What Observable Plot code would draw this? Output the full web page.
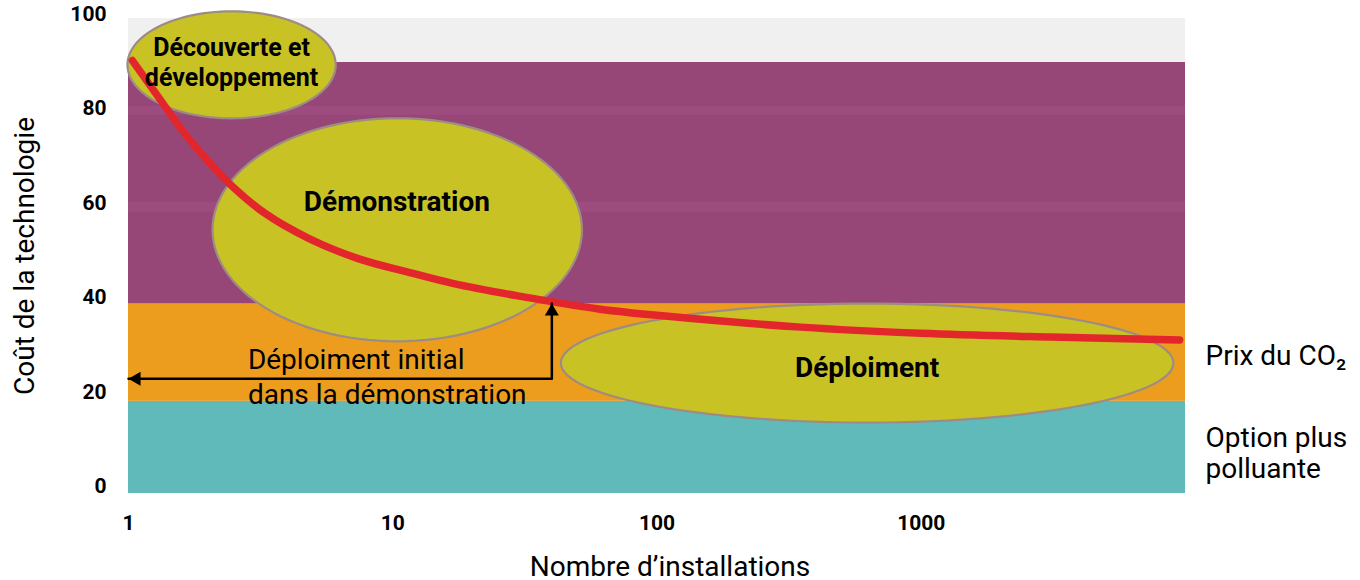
<!DOCTYPE html>
<html>
<head>
<meta charset="utf-8">
<script src="https://cdn.jsdelivr.net/npm/d3@7"></script>
<script src="https://cdn.jsdelivr.net/npm/@observablehq/plot@0.6"></script>
<style>
  html, body { margin: 0; padding: 0; background: #ffffff; }
  #chart { width: 1360px; height: 580px; }
  svg { font-family: Roboto, "Noto Sans", sans-serif; }
</style>
</head>
<body>
<div id="chart"></div>
<script>
// ---- Data ----
const xTicks = [1, 10, 100, 1000];
const yTicks = [0, 20, 40, 60, 80, 100];
const xDomain = [1, 10000];
const yDomain = [-1.5, 99];

// Background bands (cost ranges)
const bandNames = ["Option plus polluante", "Prix du CO2", "Coût élevé", "Haut"];
const bandLow = [-1.5, 18, 38.6, 89.7];
const bandHigh = [18, 38.6, 89.7, 99];
const bandColors = ["#60bab9", "#ec9d1d", "#974777", "#f0f0f0"];

// faint stripes inside the purple band
const stripeLow = [58.0, 78.5];
const stripeHigh = [60.1, 80.4];

// Learning curve (cost vs number of installations)
const curveX = [1.035, 1.3, 1.64, 2.01, 2.48, 3.3, 4.8, 7.4, 11.5, 17, 30.5, 40, 61, 100, 350, 1000, 3100, 9500];
const curveY = [90.1, 82.3, 74.5, 68.7, 63.4, 57.7, 52.5, 48.2, 45.3, 42.9, 40.2, 39.1, 37.5, 36.2, 33.7, 32.4, 31.6, 31.0];

// Phase ellipses: centre (installations, cost), half-width in decades, half-height in cost units
const phaseNames = ["Découverte et\ndéveloppement", "Démonstration", "Déploiment"];
const phaseCx = [2.455, 10.4, 624];
const phaseCy = [89.2, 54.3, 26.1];
const phaseRx = [0.394, 0.699, 1.159];
const phaseRy = [11.32, 23.6, 12.59];
const phaseLabelX = [2.455, 10.37, 624];
const phaseLabelY = [90.0, 60.1, 24.95];
const phaseFontSize = [25, 28, 28];

// Arrow: initial deployment in the demonstration
const arrowX = [1, 40, 40];
const arrowY = [22.8, 22.8, 38.7];
const arrowText = "Déploiment initial\ndans la démonstration";
const arrowTextX = 2.83;
const arrowTextY = 23.6;

// Right-hand labels
const sideLabels = ["Prix du CO₂", "Option plus\npolluante"];
const sideLabelY = [27.7, 7.1];

const xTitle = "Nombre d’installations";
const yTitle = "Coût de la technologie";

// ---- Derived tables ----
const bands = bandLow.map((lo, i) => ({name: bandNames[i], y1: lo, y2: bandHigh[i], fill: bandColors[i]}));
const stripes = stripeLow.map((lo, i) => ({y1: lo, y2: stripeHigh[i]}));
const curve = curveX.map((x, i) => ({x, y: curveY[i]}));
const ellipsePts = [];
phaseNames.forEach((name, i) => {
  const n = 120;
  for (let k = 0; k < n; k++) {
    const t = (2 * Math.PI * k) / n;
    ellipsePts.push({
      name,
      x: Math.pow(10, Math.log10(phaseCx[i]) + phaseRx[i] * Math.cos(t)),
      y: phaseCy[i] + phaseRy[i] * Math.sin(t)
    });
  }
});
const phaseLabels = phaseNames.map((name, i) => ({name, x: phaseLabelX[i], y: phaseLabelY[i], size: phaseFontSize[i]}));
const arrowPath = arrowX.map((x, i) => ({x, y: arrowY[i]}));
const upHead = [{x: arrowX[2], y: arrowY[2]}];
const leftHead = [{x: arrowX[0], y: arrowY[0]}];
const side = sideLabels.map((t, i) => ({t, y: sideLabelY[i]}));

const chart = Plot.plot({
  width: 1360,
  height: 580,
  marginLeft: 128,
  marginRight: 175,
  marginTop: 18,
  marginBottom: 87,
  style: {fontFamily: "Roboto, 'Noto Sans', sans-serif", background: "#ffffff", overflow: "visible"},
  x: {type: "log", domain: xDomain},
  y: {domain: yDomain},
  marks: [
    Plot.rect(bands, {x1: xDomain[0], x2: xDomain[1], y1: "y1", y2: "y2", fill: "fill"}),
    Plot.rect(stripes, {x1: xDomain[0], x2: xDomain[1], y1: "y1", y2: "y2", fill: "#a04e82", fillOpacity: 0.8}),
    Plot.line(ellipsePts, {x: "x", y: "y", z: "name", curve: "linear-closed", fill: "#c9c225", stroke: "#9c8c84", strokeWidth: 2.2}),
    Plot.line(curve, {x: "x", y: "y", curve: "catmull-rom", stroke: "#e3262c", strokeWidth: 7.5, strokeLinecap: "round"}),
    Plot.line(arrowPath, {x: "x", y: "y", stroke: "#000000", strokeWidth: 2.5}),
    Plot.dot(upHead, {x: "x", y: "y", symbol: "triangle", r: 5.2, fill: "#000000", stroke: null, dy: 8}),
    Plot.dot(leftHead, {x: "x", y: "y", symbol: "triangle", r: 5.2, fill: "#000000", stroke: null, rotate: -90, dx: 8}),
    Plot.text(phaseLabels.filter(d => d.size === 25), {x: "x", y: "y", text: "name", fontSize: 25, fontWeight: "bold", fill: "#000", lineHeight: 1.22}),
    Plot.text(phaseLabels.filter(d => d.size === 28), {x: "x", y: "y", text: "name", fontSize: 28, fontWeight: "bold", fill: "#000"}),
    Plot.text([arrowText], {x: arrowTextX, y: arrowTextY, text: d => d, textAnchor: "start", fontSize: 28, fill: "#000", lineHeight: 1.25}),
    Plot.text(side, {x: xDomain[1], y: "y", text: "t", textAnchor: "start", dx: 20, fontSize: 28, fill: "#000", lineHeight: 1.1}),
    Plot.axisX({ticks: xTicks, tickFormat: d => String(d), tickSize: 0, tickPadding: 22, fontSize: 21, fontWeight: "bold", label: null}),
    Plot.axisY({ticks: yTicks, tickFormat: d => String(d), tickSize: 0, tickPadding: 22, fontSize: 21, fontWeight: "bold", label: null}),
    Plot.text([xTitle], {frameAnchor: "bottom", dx: 13, dy: 82, lineAnchor: "bottom", textAnchor: "middle", text: d => d, fontSize: 28, fill: "#000"}),
    Plot.text([yTitle], {frameAnchor: "left", dx: -103, rotate: -90, textAnchor: "middle", lineAnchor: "middle", text: d => d, fontSize: 28, fill: "#000"})
  ]
});
document.getElementById("chart").appendChild(chart);
</script>
</body>
</html>
